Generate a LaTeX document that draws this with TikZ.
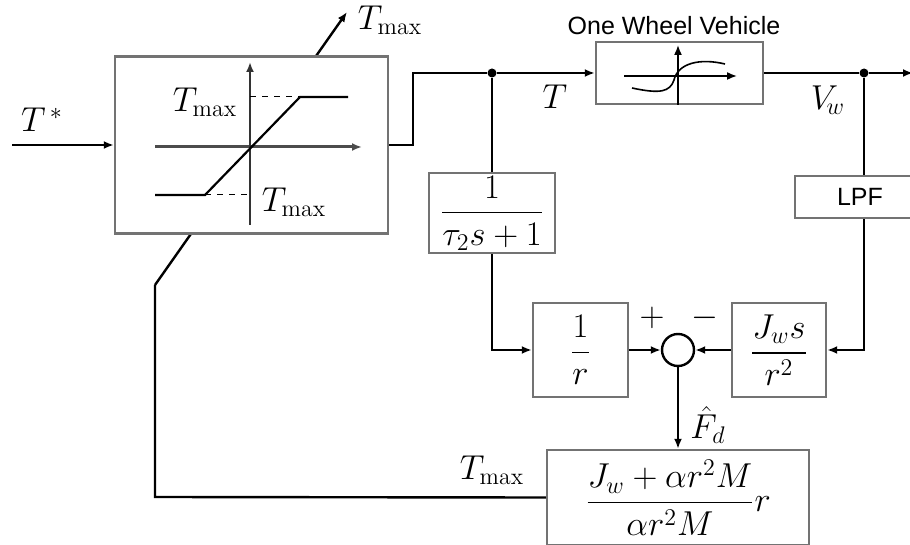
\documentclass[tikz,border=0pt]{standalone}
\usepackage{amsmath}
\usepackage{fontspec}
\newfontfamily\labelfont{Liberation Sans}
\usetikzlibrary{calc,arrows.meta}
\usetikzlibrary{positioning}

\begin{document}
\begin{tikzpicture}[x=0.5pt, y=-0.5pt,
  >={Latex[length=5pt,width=4pt]},
  block/.style={draw=black!55, line width=1.2pt, fill=white, inner sep=0pt},
  wire/.style={draw=black, line width=1.2pt},
  sumnode/.style={circle, draw=black, line width=1.2pt, fill=white, minimum size=16pt, inner sep=0pt},
  dot/.style={circle, fill=black, minimum size=4.5pt, inner sep=0pt},
  lbl/.style={inner sep=0pt, font=\fontsize{17}{20}\selectfont},
  txt/.style={inner sep=0pt, font=\labelfont\fontsize{12.5}{15}\selectfont}
]
\useasboundingbox (0,0) rectangle (910,545);

% ---- Blocks ----
\node[block, minimum width=83.5pt, minimum height=31pt] (veh) at (679.5,73) {};
\node[block, minimum width=63pt, minimum height=40pt, lbl] (lag) at (492,213) {$\dfrac{1}{\tau_2 s+1}$};
\node[block, minimum width=65pt, minimum height=21pt, txt] (lpf) at (860,197) {LPF};
\node[block, minimum width=47.5pt, minimum height=47pt, lbl] (inv) at (580.5,350) {$\dfrac{1}{r}$};
\node[sumnode] (sum) at (678,350) {};
\node[block, minimum width=47pt, minimum height=47pt, lbl] (deriv) at (779,350) {$\dfrac{J_w s}{r^2}$};
\node[block, minimum width=131pt, minimum height=47.5pt, lbl] (gain) at (678,497.5) {$\dfrac{J_w+\alpha r^2 M}{\alpha r^2 M}r$};

% ---- Points ----
\coordinate (in)  at (12,145);
\coordinate (k1)  at (413,73);
\node[dot] (j1) at (492,73) {};
\node[dot] (j2) at (864,73) {};
\coordinate (out) at (913,73);
\coordinate (k2)  at (155,497);
\coordinate (k3)  at (155,285);
\coordinate (lim) at (347,12);

% ---- Limit feedback (behind the saturation block) ----
\draw[wire] (gain.west) -- (k2) -- (k3);
\draw[wire, ->] (k3) -- (lim);

% ---- Saturation block ----
\node[block, minimum width=136.5pt, minimum height=88.5pt] (sat) at (251.5,145) {};
\draw[->, black!70, line width=1.5pt] (155,147) -- (362,147);
\draw[->, black!80, line width=1pt] (250,225) -- (250,62);
\draw[line width=1.1pt] (155,195) -- (205,195) -- (300,97) -- (348,97);
\draw[dashed, line width=0.5pt] (250,97) -- (300,97);
\draw[dashed, line width=0.5pt] (205,195) -- (250,195);
\node[lbl] (tup) at (205,102) {$T_{\max}$};
\node[lbl] (tlo) at (294,202) {$T_{\max}$};

% ---- Vehicle curve ----
\draw[->, line width=0.8pt] (624,76) -- (737,76);
\draw[->, line width=0.8pt] (678,105) -- (678,45);
\draw[line width=0.8pt] (632,88) .. controls (660,94) and (670,92) .. (674,80)
  .. controls (678,63) and (700,58) .. (725,64);

% ---- Connectors ----
\draw[wire, ->] (in) -- (sat.west);
\draw[wire] (sat.east) -| (k1) -- (j1);
\draw[wire, ->] (j1) -- (veh.west);
\draw[wire] (veh.east) -- (j2);
\draw[wire, ->] (j2) -- (out);
\draw[wire] (j1) -- (lag.north);
\draw[wire, ->] (lag.south) |- (inv.west);
\draw[wire] (j2) -- (j2 |- lpf.north);
\draw[wire, ->] (j2 |- lpf.south) |- (deriv.east);
\draw[wire, ->] (inv.east) -- (sum.west);
\draw[wire, ->] (deriv.west) -- (sum.east);
\draw[wire, ->] (sum.south) -- (gain.north);

% ---- Labels ----
\node[lbl] (tstar) at (42,120) {$T^{\,*}$};
\node[lbl] (tlim) at (390,20) {$T_{\max}$};
\node[txt] (vname) at (674,26) {One Wheel Vehicle};
\node[lbl] (tlab) at (555,97) {$T$};
\node[lbl] (vw) at (828,100) {$V_{\!w}$};
\node[lbl] (plus) at (652,318) {$+$};
\node[lbl] (minus) at (705,318) {$-$};
\node[lbl] (fd) at (708,425) {$\hat{F}_{d}$};
\node[lbl] (tbot) at (492,470) {$T_{\max}$};
\end{tikzpicture}
\end{document}
